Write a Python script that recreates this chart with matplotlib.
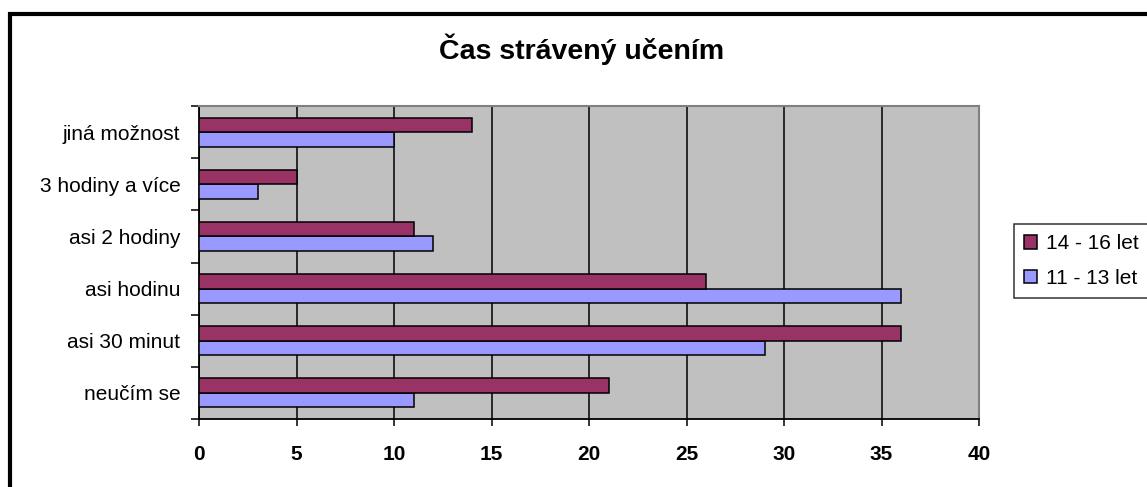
import matplotlib
matplotlib.use("Agg")
import matplotlib.pyplot as plt
import numpy as np
from matplotlib.patches import Rectangle

plt.rcParams['font.family'] = ['Liberation Sans', 'DejaVu Sans']

categories = ['neučím se', 'asi 30 minut', 'asi hodinu', 'asi 2 hodiny',
              '3 hodiny a více', 'jiná možnost']
older = [21, 36, 26, 11, 5, 14]     # 14 - 16 let
younger = [11, 29, 36, 12, 3, 10]   # 11 - 13 let
xticks = [0, 5, 10, 15, 20, 25, 30, 35, 40]

W, H = 1147, 487
fig = plt.figure(figsize=(W / 100, H / 100), dpi=100)
# plot area in pixels: x 199-979, y 106-419
ax = fig.add_axes([199 / W, 1 - 419 / H, 780 / W, 313 / H])

# outer chart frame (right and bottom edges fall outside the picture)
fig.patches.append(Rectangle((9.5 / W, -0.05), 1.1, 1.05 - 14 / H,
                             transform=fig.transFigure, fill=False,
                             edgecolor='black', linewidth=3))

y = np.arange(len(categories))
h = 0.278
ax.barh(y - h / 2, younger, height=h, color='#9999FF', edgecolor='black',
        linewidth=1.1, label='11 - 13 let', zorder=3)
ax.barh(y + h / 2, older, height=h, color='#993366', edgecolor='black',
        linewidth=1.1, label='14 - 16 let', zorder=3)

ax.set_facecolor('#C0C0C0')
ax.set_xlim(0, 40)
ax.set_ylim(-0.5, len(categories) - 0.5)
ax.set_xticks(xticks)
ax.set_xticklabels([str(v) for v in xticks], fontweight='bold', fontsize=15)
ax.xaxis.grid(True, color='black', linewidth=1.1, zorder=1)
ax.set_axisbelow(True)

# category labels centred, ticks on the category boundaries
ax.set_yticks(y)
ax.set_yticklabels(categories, fontsize=15)
ax.tick_params(axis='y', which='major', length=0, pad=13.5)
ax.set_yticks(np.arange(-0.5, len(categories)), minor=True)
ax.tick_params(axis='y', which='minor', length=6, width=1.1)
ax.tick_params(axis='x', length=5, width=1.1, pad=13.5)

for s in ['top', 'right']:
    ax.spines[s].set_color('#808080')
    ax.spines[s].set_linewidth(1.5)
for s in ['left', 'bottom']:
    ax.spines[s].set_color('black')
    ax.spines[s].set_linewidth(1.3)

fig.text(582 / W, 1 - 59 / H, 'Čas strávený učením', ha='center',
         va='baseline', fontsize=20.5, fontweight='bold')

handles, labels = ax.get_legend_handles_labels()
leg = fig.legend(handles[::-1], labels[::-1], loc='upper left',
                 bbox_to_anchor=(1014 / W, 1 - 224 / H), fontsize=15,
                 frameon=True, fancybox=False, edgecolor='black',
                 handlelength=0.6, handleheight=0.6, handletextpad=0.45,
                 borderpad=0.5, borderaxespad=0, labelspacing=0.75)
leg.get_frame().set_linewidth(1.1)

fig.savefig('out.png', dpi=100)
